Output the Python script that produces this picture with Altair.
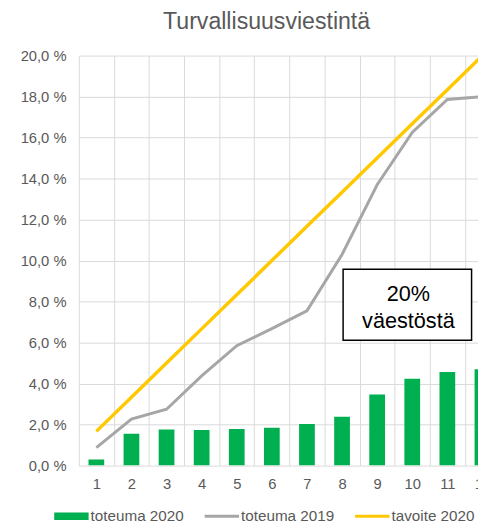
import altair as alt
import pandas as pd

# ---- data ----
months = list(range(1, 13))
toteuma_2020 = [0.30, 1.55, 1.76, 1.74, 1.79, 1.85, 2.03, 2.38, 3.47, 4.24, 4.57, 4.70]
toteuma_2019 = [0.88, 2.27, 2.75, 4.38, 5.85, 6.68, 7.55, 10.30, 13.70, 16.25, 17.86, 18.00]
tavoite_2020 = [1.67, 3.33, 5.00, 6.67, 8.33, 10.00, 11.67, 13.33, 15.00, 16.67, 18.33, 20.00]
series = ["toteuma 2020", "toteuma 2019", "tavoite 2020"]
colors = ["#00B050", "#A6A6A6", "#FFC800"]
y_ticks = [0, 2, 4, 6, 8, 10, 12, 14, 16, 18, 20]
x_bounds = [0.5, 1.5, 2.5, 3.5, 4.5, 5.5, 6.5, 7.5, 8.5, 9.5, 10.5, 11.5]
chart_title = "Turvallisuusviestintä"
note_lines = ["20%", "väestöstä"]
note_box = {"x": 8.03, "x2": 11.69, "y": 6.11, "y2": 9.58}
note_text_x = 9.89
note_text_y = [8.03, 6.70]

FONT = "Liberation Sans, Arial, sans-serif"
GREY_TXT = "#595959"
GRID = "#D9D9D9"

df_bar = pd.DataFrame({"kk": months, "arvo": toteuma_2020})
df_2019 = pd.DataFrame({"kk": months, "arvo": toteuma_2019})
df_goal = pd.DataFrame({"kk": months, "arvo": tavoite_2020})
df_leg = pd.DataFrame({"sarja": series})
df_box = pd.DataFrame([note_box])
df_note = pd.DataFrame({"x": [note_text_x] * 2, "y": note_text_y, "t": note_lines})

x_scale = alt.Scale(domain=[0.5, 11.873], nice=False, zero=False, padding=0)
y_scale = alt.Scale(domain=[0, 20], nice=False, zero=True, padding=0)

x_axis = alt.Axis(values=x_bounds, grid=True, gridColor=GRID, gridWidth=1, ticks=False,
                  domain=False, labelOffset=17.85,
                  labelExpr="format(datum.value + 0.5, 'd')", labelFlush=False,
                  labelOverlap=False, labelPadding=11, labelFontSize=15,
                  labelColor=GREY_TXT, labelFont=FONT, title=None)
y_axis = alt.Axis(values=y_ticks, grid=True, gridColor=GRID, gridWidth=1, ticks=False,
                  domain=False, labelExpr="replace(format(datum.value, '.1f'), '.', ',') + ' %'",
                  labelPadding=13, labelFontSize=15, labelColor=GREY_TXT, labelFont=FONT,
                  title=None)

X = alt.X("kk:Q", scale=x_scale, axis=x_axis)
Y = alt.Y("arvo:Q", scale=y_scale, axis=y_axis)

bars = alt.Chart(df_bar).mark_bar(size=16, color=colors[0], clip=True).encode(x=X, y=Y)
line19 = alt.Chart(df_2019).mark_line(color=colors[1], strokeWidth=3, clip=True).encode(x=X, y=Y)
goal = alt.Chart(df_goal).mark_line(color=colors[2], strokeWidth=3.5, clip=True).encode(x=X, y=Y)

box = alt.Chart(df_box).mark_rect(fill="white", stroke="black", strokeWidth=1.5).encode(
    x=alt.X("x:Q", scale=x_scale, axis=x_axis), x2="x2:Q",
    y=alt.Y("y:Q", scale=y_scale, axis=y_axis), y2="y2:Q")
note = alt.Chart(df_note).mark_text(fontSize=22, font=FONT, color="black",
                                    align="center", baseline="alphabetic").encode(
    x=alt.X("x:Q", scale=x_scale, axis=x_axis),
    y=alt.Y("y:Q", scale=y_scale, axis=y_axis), text="t:N")

bar_path = "M-1,-0.22H1V0.22H-1Z"
line_path = "M-1,-0.09H1V0.09H-1Z"
leg = alt.Legend(title=None, orient="none", legendX=-25, legendY=451, direction="horizontal",
                 columns=3, columnPadding=21, symbolSize=1225, symbolOpacity=1,
                 symbolStrokeWidth=0, labelFontSize=15.5, labelFont=FONT,
                 labelColor=GREY_TXT, labelOffset=2, padding=0)
legend_layer = alt.Chart(df_leg).mark_point(filled=True, opacity=0).encode(
    color=alt.Color("sarja:N", scale=alt.Scale(domain=series, range=colors), legend=leg),
    shape=alt.Shape("sarja:N", scale=alt.Scale(domain=series,
                                               range=[bar_path, line_path, line_path]),
                    legend=leg),
)

chart = alt.layer(bars, line19, goal, box, note, legend_layer).properties(
    width=406, height=417,
    autosize=alt.AutoSizeParams(type="none"),
    padding={"left": 72, "top": 44, "right": 0, "bottom": 55},
    title=alt.TitleParams(chart_title, fontSize=23.5, fontWeight="normal", font=FONT,
                          color=GREY_TXT, anchor="middle", dx=-12, offset=16),
).configure_view(stroke=None)

chart.save("out.html", embed_options={"renderer": "svg", "actions": False})
